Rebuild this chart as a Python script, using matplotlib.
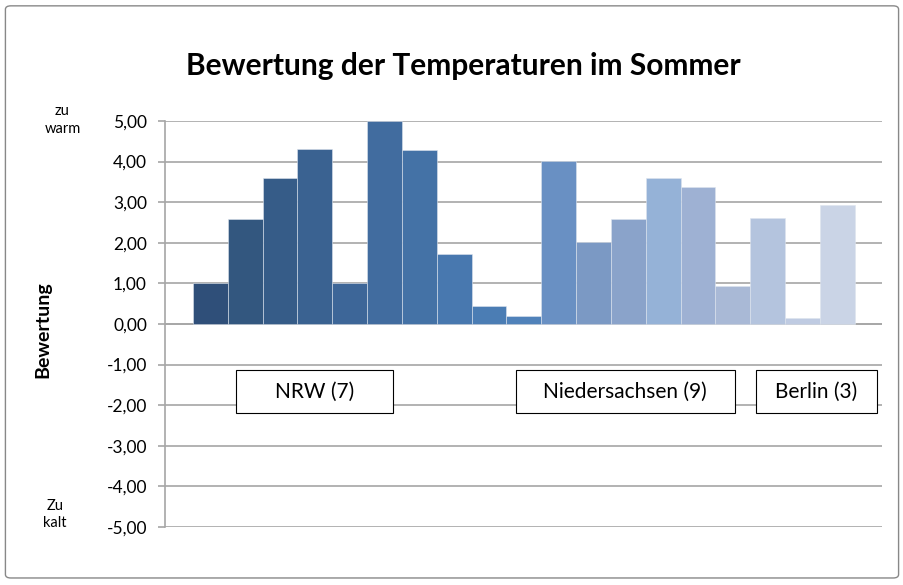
import matplotlib.pyplot as plt
from matplotlib.patches import FancyBboxPatch

plt.rcParams['font.family'] = ['Lato', 'DejaVu Sans']

# Bewertung je Teilnehmer (19 Balken)
values = [1.00, 2.58, 3.60, 4.32, 1.00, 5.00, 4.29, 1.73, 0.45, 0.19,
          4.01, 2.01, 2.58, 3.60, 3.37, 0.93, 2.61, 0.16, 2.93]
colors = ["#2F4F79", "#33577F", "#365C88", "#3A6291", "#3D6698", "#416C9F",
          "#4472A6", "#4878AF", "#4B7DB4", "#5082BA", "#6990C3", "#7B99C4",
          "#8AA3CA", "#95B2D7", "#9EB1D3", "#A9B9D6", "#B4C4DE", "#BFCBE2", "#CAD4E6"]
groups = ["NRW (7)", "Niedersachsen (9)", "Berlin (3)"]
group_x = [2.99, 11.91, 17.4]   # Mitte der Beschriftungsfelder
group_w = [4.5, 6.28, 3.45]
yticks = [5, 4, 3, 2, 1, 0, -1, -2, -3, -4, -5]

fig = plt.figure(figsize=(9.04, 5.85), dpi=100)
# Rahmen um das Diagramm
fig.patches.append(FancyBboxPatch((0.006, 0.012), 0.988, 0.978, boxstyle="round,pad=0,rounding_size=0.006",
                                  transform=fig.transFigure, fill=False, edgecolor="#888888", linewidth=1))

ax = fig.add_axes([0.1825, 0.0991, 0.7932, 0.6941])
x = list(range(len(values)))
ax.bar(x, values, width=1.0, color=colors, edgecolor="#dde4ee", linewidth=0.4, zorder=3)

ax.set_ylim(-5, 5)
ax.set_xlim(-1.3, 19.28)
ax.set_yticks(yticks)
ax.set_yticklabels([f"{v:.2f}".replace(".", ",") for v in yticks], fontsize=12.5)
ax.set_xticks([])
ax.grid(axis="y", color="#A6A6A6", linewidth=1.2, zorder=0)
for s in ["top", "right", "bottom"]:
    ax.spines[s].set_visible(False)
ax.spines["left"].set_color("#A6A6A6")
ax.spines["left"].set_linewidth(1.2)
ax.tick_params(axis="y", direction="out", length=5, color="#A6A6A6", width=1.2, pad=8)
ax.axhline(0, color="#A6A6A6", linewidth=1.2, zorder=2)

# Gruppenbeschriftungen
for label, gx, gw in zip(groups, group_x, group_w):
    ax.text(gx, -1.66, label, ha="center", va="center", fontsize=15, zorder=5)
    ax.add_patch(plt.Rectangle((gx - gw / 2, -2.19), gw, 1.06, facecolor="white",
                               edgecolor="black", linewidth=0.8, zorder=4))

fig.text(0.513, 0.888, "Bewertung der Temperaturen im Sommer", ha="center", va="center",
         fontsize=21.5, fontweight="bold")
fig.text(0.047, 0.437, "Bewertung", rotation=90, ha="center", va="center",
         fontsize=14, fontweight="bold")
fig.text(0.069, 0.795, "zu\nwarm", ha="center", va="center", fontsize=10.5, linespacing=1.3)
fig.text(0.061, 0.121, "Zu\nkalt", ha="center", va="center", fontsize=10.5, linespacing=1.3)

fig.savefig("out.png", dpi=100)
